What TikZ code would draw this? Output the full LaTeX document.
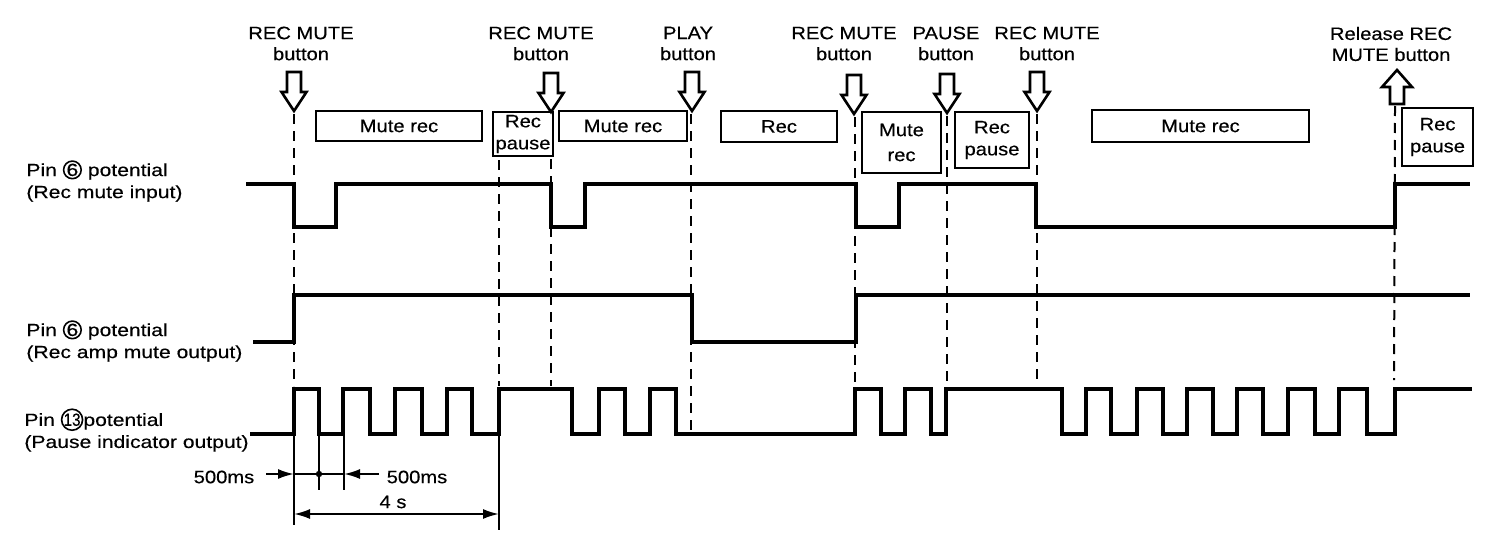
\documentclass[tikz,border=0pt]{standalone}
\usepackage{fontspec}
\setmainfont{Liberation Sans}[FakeStretch=1.12,FakeBold=0.4]
\newfontfamily\lblfont{Liberation Sans}[FakeStretch=1.2,FakeBold=0.4]
\usetikzlibrary{arrows.meta}
\newcommand{\cnum}[1]{\tikz[baseline=-3.1pt]\node[draw,circle,line width=0.8pt,inner sep=0pt,minimum size=8.8pt]{#1};}
\tikzset{
  wave/.style={line width=2pt,line join=miter,line cap=rect},
  dsh/.style={line width=1pt,dash pattern=on 5pt off 3.5pt},
  box/.style={draw,line width=1pt,inner sep=0pt,align=center,font=\fontsize{9}{11}\selectfont},
  toplbl/.style={inner sep=0pt,align=center,font=\fontsize{9}{10.5}\selectfont},
  rowlbl/.style={inner sep=0pt,align=left,anchor=west,font=\lblfont\fontsize{8.8}{11}\selectfont},
  dimtxt/.style={inner sep=0pt,font=\fontsize{9}{11}\selectfont},
  dimln/.style={line width=1pt},
  tip/.style={-{Latex[length=8pt,width=5pt]}},
  downarr/.pic={\draw[line width=1.3pt,fill=white,line join=miter]
     (-7,-39) -- (7,-39) -- (7,-19) -- (12.5,-19) -- (0,0) -- (-12.5,-19) -- (-7,-19) -- cycle;},
  uparr/.pic={\draw[line width=1.3pt,fill=white,line join=miter]
     (-7,34) -- (7,34) -- (7,17) -- (15,17) -- (0,0) -- (-15,17) -- (-7,17) -- cycle;}
}
\begin{document}
\begin{tikzpicture}[x=0.5pt,y=-0.5pt]
\useasboundingbox (0,0) rectangle (1486,540);

% top labels
\node[toplbl] (l1) at (301,43.5) {REC MUTE\\button};
\node[toplbl] (l2) at (541,43.5) {REC MUTE\\button};
\node[toplbl] (l3) at (688,43.5) {PLAY\\button};
\node[toplbl] (l4) at (844,43.5) {REC MUTE\\button};
\node[toplbl] (l5) at (946,43.5) {PAUSE\\button};
\node[toplbl] (l6) at (1047,43.5) {REC MUTE\\button};
\node[toplbl] (l7) at (1391,44) {Release REC\\MUTE button};

% arrow tips
\coordinate (t1) at (294,111);
\coordinate (t2) at (551,112);
\coordinate (t3) at (692,111);
\coordinate (t4) at (854,114);
\coordinate (t5) at (947,113);
\coordinate (t6) at (1037,111);
\coordinate (t7) at (1397,70);

% dashed markers
\coordinate (d1a) at (294,114); \coordinate (d1b) at (294,386);
\coordinate (d2a) at (499,160); \coordinate (d2b) at (499,386);
\coordinate (d3a) at (551,159); \coordinate (d3b) at (551,386);
\coordinate (d4a) at (691,114); \coordinate (d4b) at (691,432);
\coordinate (d5a) at (855,117); \coordinate (d5b) at (855,386);
\coordinate (d6a) at (947,116); \coordinate (d6b) at (947,384);
\coordinate (d7a) at (1037,114); \coordinate (d7b) at (1037,384);
\coordinate (d8a) at (1395,106); \coordinate (d8b) at (1394,380);
\foreach \i in {1,...,8} {\draw[dsh] (d\i a) -- (d\i b);}

% boxes
\node[box,minimum width=83pt,minimum height=15pt] (b1) at (399,126) {Mute rec};
\node[box,minimum width=30pt,minimum height=22pt] (b2) at (523,134) {Rec\\pause};
\node[box,minimum width=64pt,minimum height=15pt] (b3) at (623,126) {Mute rec};
\node[box,minimum width=58pt,minimum height=15.5pt] (b4) at (779,126.5) {Rec};
\node[box,minimum width=39.5pt,minimum height=30.5pt,font=\fontsize{9}{12.5}\selectfont] (b5) at (901.5,142.5) {Mute\\rec};
\node[box,minimum width=37pt,minimum height=28pt] (b6) at (992,140) {Rec\\pause};
\node[box,minimum width=108.5pt,minimum height=16pt] (b7) at (1200.5,126) {Mute rec};
\node[box,minimum width=35.5pt,minimum height=29pt] (b8) at (1437.5,137) {Rec\\pause};

% hollow arrows
\pic (a1) at (t1) {downarr};
\pic (a2) at (t2) {downarr};
\pic (a3) at (t3) {downarr};
\pic (a4) at (t4) {downarr};
\pic (a5) at (t5) {downarr};
\pic (a6) at (t6) {downarr};
\pic (a7) at (t7) {uparr};

% row labels
\node[rowlbl] (r1) at (26,181) {Pin \cnum{6} potential\\(Rec mute input)};
\node[rowlbl] (r2) at (26,341) {Pin \cnum{6} potential\\(Rec amp mute output)};
\node[rowlbl] (r3) at (24,430) {Pin \cnum{\scalebox{0.72}[1]{13}}potential\\(Pause indicator output)};

% waveforms
\draw[wave] (248,184) -- (294,184) -- (294,227) -- (336,227) -- (336,184) -- (551,184) -- (551,227) -- (585,227) -- (585,184) -- (856,184) -- (856,227) -- (899,227) -- (899,184) -- (1036,184) -- (1036,227) -- (1395,227) -- (1395,184) -- (1468,184);

\draw[wave] (255,342) -- (294,342) -- (294,295) -- (692,295) -- (692,342) -- (856,342) -- (856,295) -- (1468,295);

\draw[wave] (252,434) -- (294,434) -- (294,389) -- (319,389) -- (319,434) -- (343,434) -- (343,389) -- (370,389) -- (370,434) -- (395,434) -- (395,389) -- (422,389) -- (422,434) -- (447,434) -- (447,389) -- (472,389) -- (472,434) -- (499,434) -- (499,389) -- (572,389) -- (572,434) -- (599,434) -- (599,389) -- (625,389) -- (625,434) -- (650,434) -- (650,389) -- (676,389) -- (676,434) -- (855,434) -- (855,389) -- (881,389) -- (881,434) -- (905,434) -- (905,389) -- (931,389) -- (931,434) -- (946,434) -- (946,389) -- (1062,389) -- (1062,434) -- (1086,434) -- (1086,389) -- (1111,389) -- (1111,434) -- (1137,434) -- (1137,389) -- (1163,389) -- (1163,434) -- (1187,434) -- (1187,389) -- (1213,389) -- (1213,434) -- (1237,434) -- (1237,389) -- (1263,389) -- (1263,434) -- (1288,434) -- (1288,389) -- (1315,389) -- (1315,434) -- (1339,434) -- (1339,389) -- (1367,389) -- (1367,434) -- (1395,434) -- (1395,389) -- (1470,389);

% dimensions
\coordinate (e1a) at (294,436); \coordinate (e1b) at (294,525);
\coordinate (e2a) at (319,436); \coordinate (e2b) at (319,490);
\coordinate (e3a) at (344,436); \coordinate (e3b) at (344,490);
\coordinate (e4a) at (499,436); \coordinate (e4b) at (499,530);
\foreach \i in {1,...,4} {\draw[dimln] (e\i a) -- (e\i b);}
\coordinate (m0) at (266,474); \coordinate (m1) at (294,474);
\coordinate (m2) at (319,474); \coordinate (m3) at (344,474);
\coordinate (m4) at (379,474);
\draw[dimln,tip] (m0) -- (m1);
\draw[dimln] (m1) -- (m3);
\draw[dimln,tip] (m4) -- (m3);
\fill (m2) circle (3.2);
\node[dimtxt] (ms1) at (224,477) {500ms};
\node[dimtxt] (ms2) at (417,477) {500ms};
\node[dimtxt] (fs) at (393,502) {4 s};
\coordinate (n1) at (294,514); \coordinate (n2) at (499,514);
\draw[dimln,{Latex[length=8pt,width=5pt]}-{Latex[length=8pt,width=5pt]}] (n1) -- (n2);
\end{tikzpicture}
\end{document}
